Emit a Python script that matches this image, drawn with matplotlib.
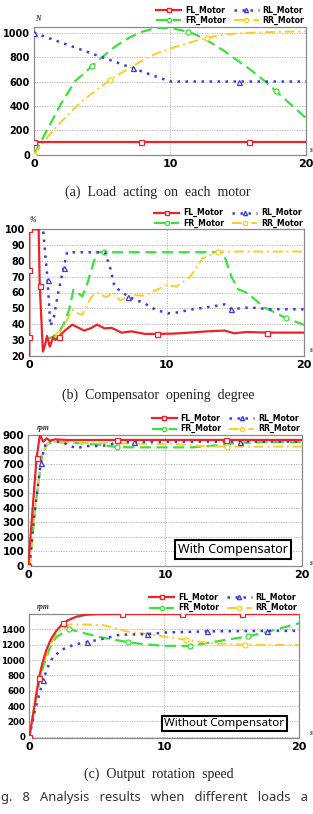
import numpy as np
import matplotlib
matplotlib.use("Agg")
import matplotlib.pyplot as plt
from matplotlib.lines import Line2D

W, H = 313, 814

# ---- (a) load acting on each motor [N] ----
a_fl_x = [0, 7.9, 15.8, 20]
a_fl_y = [100, 100, 100, 100]
a_rl_x = [0, 7.3, 10, 15.1, 20]
a_rl_y = [1000, 708, 600, 600, 600]
a_fr_x = [0, 1, 2, 3, 4.3, 5, 6, 7, 8, 9, 10, 11.3, 12, 13, 14, 15, 16, 17, 17.8, 19, 20]
a_fr_y = [0, 210, 420, 600, 730, 800, 890, 960, 1010, 1040, 1040, 1010, 980, 920, 850, 770, 690, 600, 520, 400, 300]
a_rr_x = [0, 1, 2, 3, 4, 5, 5.6, 7, 8, 9, 10, 11, 12.7, 14, 15, 16, 17, 18, 19, 20]
a_rr_y = [0, 145, 270, 385, 480, 565, 613, 710, 775, 830, 870, 905, 960, 985, 995, 1000, 1005, 1008, 1010, 1010]

# ---- (b) compensator opening degree [%] ----
b_fl_x = [0, 0, 0, 0, 0.68, 0.76, 0.99, 1.15, 1.29, 1.49, 1.73, 1.9, 2.15, 2.6, 3.13, 3.5, 3.99, 4.5, 4.93,
          5.47, 6.0, 6.7, 7.44, 8.4, 9.3, 10.5, 12.0, 12.9, 14.2, 14.9, 15.8, 17.3, 20]
b_fl_y = [20, 32, 74, 100, 100, 64, 22.6, 27, 32.5, 25.7, 31.6, 30, 32, 36, 39.7, 38, 35.9, 37.5, 39.7,
          37.3, 37.6, 34.6, 35.4, 33.8, 33.8, 34, 34.8, 35.4, 35.9, 34.2, 35, 34.6, 34.6]
b_rl_x = [0, 1.0, 1.33, 1.53, 1.8, 2.1, 2.5, 2.75, 5.5, 5.9, 6.2, 7.2, 8.4, 9.2, 10.1, 10.7, 11.9, 13.2, 14.2,
          14.7, 16.0, 17.5, 20]
b_rl_y = [100, 100, 68, 38.8, 45, 60, 75.7, 85.5, 85.5, 75, 63.7, 57.4, 53, 49, 46.8, 47.3, 49.4, 51, 52.5,
          49.4, 50.6, 49.4, 49.4]
b_fr_x = [1.2, 1.7, 2.15, 2.5, 2.9, 3.2, 3.5, 3.85, 4.2, 4.9, 5.4, 14.1, 14.7, 15.2, 15.9, 17.0, 18.7, 20]
b_fr_y = [30, 32, 34.6, 40, 49, 61.6, 60, 57.5, 65, 85.5, 85.5, 85.5, 70, 62, 59.5, 51, 43.7, 39.5]
b_rr_x = [1.9, 2.1, 2.6, 3.1, 3.5, 3.85, 4.5, 4.9, 5.6, 6.1, 6.6, 7.4, 8.4, 10.0, 10.7, 11.7, 12.6, 13.7, 20]
b_rr_y = [31, 34, 40, 49, 47, 45.8, 57, 60, 57, 60, 55, 58.4, 58, 64.7, 63.7, 70, 81.6, 85.9, 85.9]

# ---- (c) output rotation speed [rpm], with compensator ----
c1_fl_x = [0, 0.3, 0.6, 0.85, 1.1, 1.34, 1.58, 1.95, 3, 6.5, 14.46, 20]
c1_fl_y = [0, 370, 739, 900, 854, 877, 861, 870, 865, 866, 866, 866]
c1_rl_x = [0.1, 0.4, 0.9, 1.3, 1.8, 2.5, 3.5, 4.2, 5.4, 6.6, 7.7, 10, 15.5, 20]
c1_rl_y = [0, 315, 705, 854, 861, 850, 808, 824, 824, 847, 852, 853, 855, 855]
c1_fr_x = [0.1, 0.5, 1.0, 1.4, 2, 3, 4, 5, 6.5, 8, 10, 12, 13.9, 14.5, 15.2, 17, 20]
c1_fr_y = [0, 400, 760, 840, 850, 848, 843, 835, 817, 815, 815, 815, 830, 838, 845, 850, 852]
c1_rr_x = [0.1, 0.5, 1.0, 1.4, 2, 4, 6, 8, 10, 11, 12, 13, 14.5, 17, 20]
c1_rr_y = [0, 400, 760, 840, 852, 845, 843, 840, 838, 836, 828, 822, 820, 820, 820]

# ---- (c) output rotation speed [rpm], without compensator ----
c2_fl_x = [0, 0.3, 0.71, 1.0, 1.27, 1.6, 2.0, 2.5, 3.0, 3.5, 4.2, 5, 6.9, 11.3, 15.8, 20]
c2_fl_y = [0, 307, 763, 980, 1133, 1270, 1380, 1482, 1530, 1565, 1590, 1598, 1600, 1600, 1600, 1600]
c2_rl_x = [0, 0.42, 1.03, 1.4, 1.77, 2.5, 3.3, 4.3, 5.7, 6.7, 8.7, 10.1, 13.2, 17.6, 20]
c2_rl_y = [0, 350, 741, 920, 1046, 1140, 1200, 1234, 1286, 1330, 1338, 1359, 1374, 1380, 1380]
c2_fr_x = [0, 0.5, 1.0, 1.5, 2.0, 2.95, 4.3, 5.5, 7.3, 8.5, 10.1, 11.9, 13.4, 14.8, 16.2, 17.8, 20]
c2_fr_y = [0, 520, 900, 1150, 1300, 1403, 1340, 1290, 1234, 1205, 1185, 1185, 1228, 1270, 1307, 1374, 1480]
c2_rr_x = [0, 0.5, 1.0, 1.5, 2.0, 3.0, 4.5, 5.5, 7.2, 9.1, 11.6, 13.4, 16.0, 20]
c2_rr_y = [0, 540, 930, 1180, 1340, 1465, 1462, 1455, 1374, 1330, 1265, 1220, 1200, 1195]

names = ["FL_Motor", "FR_Motor", "RL_Motor", "RR_Motor"]
RED, GREEN, BLUE, YEL = "#ee2228", "#3ee03e", "#3a3ae6", "#ffcc22"

styles = {
    "FL": dict(color=RED, ls="-", lw=1.6, marker="s"),
    "FR": dict(color=GREEN, ls=(0, (5, 2.5)), lw=1.6, marker="o"),
    "RL": dict(color=BLUE, ls=(0, (1, 2.2)), lw=1.8, marker="^"),
    "RR": dict(color=YEL, ls=(0, (5, 2, 1, 2)), lw=1.4, marker="o"),
}


def rect(left, top, right, bottom):
    return [left / W, 1 - bottom / H, (right - left) / W, (bottom - top) / H]


def draw(ax, series, ylim, yticks, ysize):
    for key, x, y, mk in series:
        st = styles[key]
        ax.plot(x, y, color=st["color"], ls=st["ls"], lw=st["lw"], marker=st["marker"],
                markevery=mk, ms=3.6, mfc="white", mec=st["color"], mew=0.9, zorder=3)
    ax.set_xlim(0, 20)
    ax.set_ylim(*ylim)
    ax.set_xticks([0, 10, 20])
    ax.set_yticks(yticks)
    ax.grid(True, ls=(0, (1.5, 1.5)), color="#b0b0b0", lw=0.6)
    ax.tick_params(axis="x", length=0, pad=3, labelsize=8)
    ax.tick_params(axis="y", length=0, pad=3, labelsize=ysize)
    for lab in ax.get_xticklabels() + ax.get_yticklabels():
        lab.set_fontweight("bold")
    for sp in ax.spines.values():
        sp.set_color("#8a8a8a")
        sp.set_linewidth(0.9)
    handles = []
    for key in ["FL", "FR", "RL", "RR"]:
        st = styles[key]
        handles.append(Line2D([0, 1], [0, 1], color=st["color"], ls=st["ls"], lw=st["lw"],
                              marker=st["marker"], markevery=[1], ms=3, mfc="white", mec=st["color"]))
    ax.legend(handles, names, ncol=2, loc="lower right", bbox_to_anchor=(1.0, 1.0), frameon=False,
              handlelength=3.2, handletextpad=0.5, columnspacing=1.0,
              borderaxespad=0.1, borderpad=0.1, labelspacing=0.15, prop={"weight": "bold", "size": 5.6})


fig = plt.figure(figsize=(W / 100, H / 100), dpi=100)

ax_a = fig.add_axes(rect(34, 26.7, 306, 154.6))
draw(ax_a, [("FR", a_fr_x, a_fr_y, [0, 4, 11, 18]), ("RR", a_rr_x, a_rr_y, [0, 6, 12]),
            ("RL", a_rl_x, a_rl_y, [0, 1, 3]), ("FL", a_fl_x, a_fl_y, [0, 1, 2])],
     (0, 1050), [0, 200, 400, 600, 800, 1000], 7)

ax_b = fig.add_axes(rect(29.3, 229.3, 304.3, 355.7))
draw(ax_b, [("FR", b_fr_x, b_fr_y, [10, 16]), ("RR", b_rr_x, b_rr_y, [1, 17]),
            ("RL", b_rl_x, b_rl_y, [2, 6, 11, 19]), ("FL", b_fl_x, b_fl_y, [1, 2, 3, 5, 12, 24, 31])],
     (20, 100), list(range(20, 101, 10)), 7)

ax_c1 = fig.add_axes(rect(28.3, 435, 301.7, 565.7))
draw(ax_c1, [("FR", c1_fr_x, c1_fr_y, [8, 13]), ("RR", c1_rr_x, c1_rr_y, [12]),
             ("RL", c1_rl_x, c1_rl_y, [2, 10, 12]), ("FL", c1_fl_x, c1_fl_y, [0, 2, 9, 10])],
     (0, 900), list(range(0, 901, 100)), 7.5)

ax_c2 = fig.add_axes(rect(29.3, 614, 299, 738))
draw(ax_c2, [("FR", c2_fr_x, c2_fr_y, [5, 8, 11, 14]), ("RR", c2_rr_x, c2_rr_y, [10, 12]),
             ("RL", c2_rl_x, c2_rl_y, [2, 7, 10, 12, 13]), ("FL", c2_fl_x, c2_fl_y, [0, 2, 7, 12, 13, 14])],
     (-15, 1600), list(range(0, 1401, 200)), 6.2)

# boxed annotations
ax_c1.text(233 / W, 1 - 549.5 / H, "With Compensator", transform=fig.transFigure, ha="center", va="center",
           family="Noto Sans", weight="bold", fontsize=9,
           bbox=dict(boxstyle="square,pad=0.25", fc="white", ec="black", lw=1.5), zorder=5)
ax_c2.text(224.5 / W, 1 - 723.5 / H, "Without Compensator", transform=fig.transFigure, ha="center", va="center",
           family="Noto Sans", weight="bold", fontsize=8.3,
           bbox=dict(boxstyle="square,pad=0.2", fc="white", ec="black", lw=1.5), zorder=5)

# unit labels
unit = dict(family="Liberation Serif", style="italic", weight="bold", fontsize=5.5, color="#333333")
fig.text(38 / W, 1 - 19 / H, "N", ha="center", va="center", **unit)
fig.text(33 / W, 1 - 220 / H, "%", ha="center", va="center", **unit)
fig.text(43 / W, 1 - 428 / H, "rpm", ha="center", va="center", **unit)
fig.text(43 / W, 1 - 607 / H, "rpm", ha="center", va="center", **unit)
for yy in [150, 350, 563, 733]:
    fig.text(310.5 / W, 1 - yy / H, "s", ha="center", va="center", **unit)

# captions
cap = dict(family="Liberation Serif", fontsize=10, ha="center", va="center", color="#222222")
fig.text(158 / W, 1 - 192 / H, "(a)  Load  acting  on  each  motor", **cap)
fig.text(158 / W, 1 - 395 / H, "(b)  Compensator  opening  degree", **cap)
fig.text(159 / W, 1 - 774 / H, "(c)  Output  rotation  speed", **cap)
# the figure caption is only partly visible in the source crop
fig.text(1 / W, 1 - 797 / H, "g.   8   Analysis   results   when   different   loads   a",
         family="Noto Sans", fontsize=9.3, ha="left", va="center", color="#333333")

fig.savefig("out.png", dpi=100)
